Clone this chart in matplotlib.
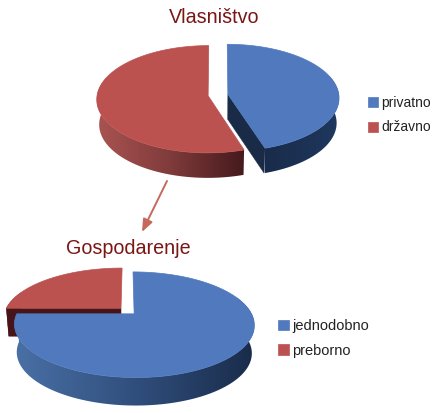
import numpy as np
import matplotlib
matplotlib.use("Agg")
import matplotlib.pyplot as plt
from matplotlib.patches import Polygon, Patch
from matplotlib.colors import LinearSegmentedColormap

# data
own_labels = ["privatno", "državno"]
own_values = [45, 55]
mgmt_labels = ["jednodobno", "preborno"]
mgmt_values = [75, 25]

plt.rcParams["font.family"] = ["Liberation Sans", "DejaVu Sans"]
BLUE, RED = "#5079BE", "#BC5250"
TITLE = "#7A1715"

fig = plt.figure(figsize=(4.38, 4.13), dpi=100)
ax = fig.add_axes([0, 0, 1, 1])
ax.axis("off")


def pie3d(values, colors, wall_ramps, face_color, cx, cy, rx, ry, k, depth, explode):
    """Perspective pie: unit disc -> screen with a homography, clockwise from 12 o'clock."""
    def proj(X, Y, d=0.0):
        shrink = 1 - 0.02 * (d > 0)
        s = 1 / (1 + k * Y)
        return cx + rx * X * s * shrink, cy - ry * Y * s + d

    fr = np.asarray(values, float) / np.sum(values)
    starts = 90 - 360 * np.r_[0, np.cumsum(fr)[:-1]]
    ends = starts - 360 * fr
    # back-most slices first
    order = sorted(range(len(fr)), key=lambda i: -np.sin(np.radians((starts[i] + ends[i]) / 2)))
    for n, i in enumerate(order):
        a, b = starts[i], ends[i]
        mid = np.radians((a + b) / 2)
        ox, oy = explode * np.cos(mid), explode * np.sin(mid)
        th = np.radians(np.linspace(a, b, 360))
        X, Y = ox + np.cos(th), oy + np.sin(th)
        z = 2 + n * 3

        # radial cut faces that look toward the viewer
        for ang, turn in ((a, np.pi / 2), (b, -np.pi / 2)):
            t = np.radians(ang)
            ex, ey = ox + np.cos(t), oy + np.sin(t)
            if np.sin(t + turn) < -0.01:
                p = [proj(ox, oy), proj(ex, ey), proj(ex, ey, depth), proj(ox, oy, depth)]
                ax.add_patch(Polygon(p, closed=True, fc=face_color[i], ec=face_color[i], lw=0.3, zorder=z + 1))

        # outer wall, shaded left to right across the slice, clipped to its outline
        px, py = proj(X, Y)
        qx, qy = proj(X, Y, depth)
        idx = np.where(np.sin(th) < 0.35)[0]
        if len(idx) > 1:
            lo, hi = px[idx].min(), px[idx].max()
            cmap = LinearSegmentedColormap.from_list("w", wall_ramps[i])
            outline = np.r_[np.c_[px[idx], py[idx]], np.c_[qx[idx], qy[idx]][::-1]]
            clip = Polygon(outline, closed=True, transform=ax.transData, fc="none", ec="none")
            ax.add_patch(clip)
            im = ax.imshow(np.linspace(0, 1, 256)[None, :], cmap=cmap, aspect="auto",
                           extent=(lo, hi, outline[:, 1].max() + 1, outline[:, 1].min() - 1),
                           zorder=z, interpolation="bilinear")
            im.set_clip_path(clip)

        # top surface
        top = [proj(ox, oy)] + list(zip(px, py))
        ax.add_patch(Polygon(top, closed=True, fc=colors[i], ec=colors[i], lw=0.5, zorder=z + 2))


def legend(labels, colors, x, y, size, gap):
    handles = [Patch(fc=c, ec=c, lw=0.5) for c in colors]
    leg = ax.legend(handles, labels, loc="center left", bbox_to_anchor=(x, y),
                    bbox_transform=ax.transData, frameon=False, fontsize=size,
                    handlelength=0.72, handleheight=0.72, handletextpad=0.26,
                    labelspacing=gap, borderpad=0, borderaxespad=0, labelcolor="#222222")
    ax.legend_ = None
    ax.add_artist(leg)


pie3d(own_values, [BLUE, RED],
      [[(0.10, 0.17, 0.29), (0.12, 0.22, 0.37)],
       [(0.66, 0.33, 0.32), (0.50, 0.23, 0.23), (0.27, 0.10, 0.11)]],
      ["#1A2B48", "#4A1518"], 218, 95, 111, 53.3, 0.065, 25, 0.09)

pie3d(mgmt_values, [BLUE, RED],
      [[(0.29, 0.44, 0.65), (0.19, 0.31, 0.49), (0.10, 0.17, 0.29)],
       [(0.28, 0.09, 0.10), (0.28, 0.09, 0.10)]],
      ["#1A2B48", "#47141A"], 127.5, 311, 116, 49.4, 0.204, 28, 0.08)

ax.set_xlim(0, 438)
ax.set_ylim(413, 0)

ax.text(214, 17.5, "Vlasništvo", ha="center", va="center", fontsize=14.2, color=TITLE)
ax.text(128, 249, "Gospodarenje", ha="center", va="center", fontsize=14.2, color=TITLE)

ax.annotate("", xy=(142, 232), xytext=(167, 181),
            arrowprops=dict(arrowstyle="-|>,head_length=0.75,head_width=0.3", color="#C4695C",
                            lw=1.4, shrinkA=0, shrinkB=0))

legend(own_labels, [BLUE, RED], 368, 115, 10, 0.78)
legend(mgmt_labels, [BLUE, RED], 278, 338.5, 10.5, 0.72)

fig.savefig("out.png", dpi=100)
